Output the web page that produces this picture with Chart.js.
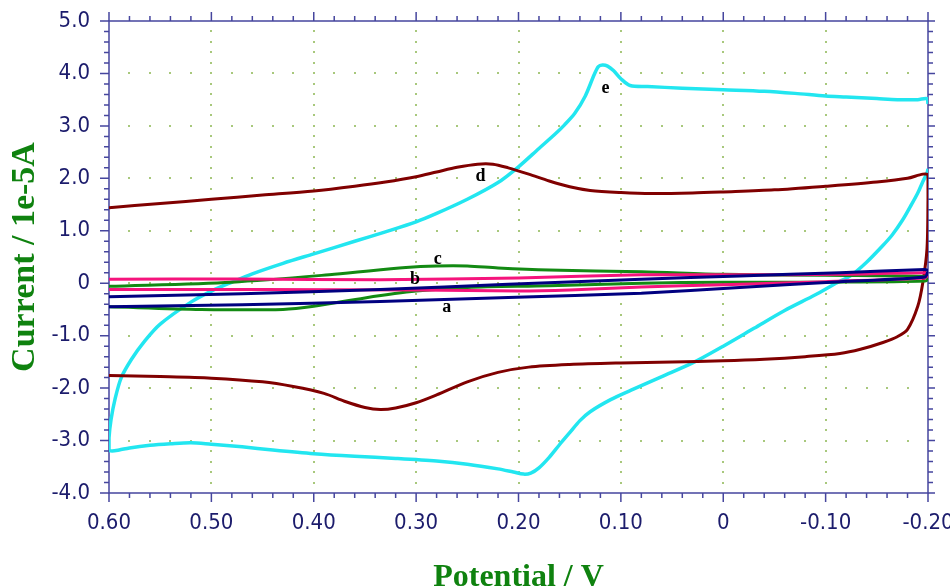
<!DOCTYPE html>
<html>
<head>
<meta charset="utf-8">
<script src="https://cdn.jsdelivr.net/npm/chart.js@4/dist/chart.umd.min.js"></script>
<style>
html,body{margin:0;padding:0;background:#ffffff;}
canvas{display:block;}
</style>
</head>
<body>
<canvas id="c" width="950" height="587"></canvas>
<script>
// ---------- DATA ----------
const xTickValues = [0.6, 0.5, 0.4, 0.3, 0.2, 0.1, 0, -0.1, -0.2];
const xTickLabels = ['0.60', '0.50', '0.40', '0.30', '0.20', '0.10', '0', '-0.10', '-0.20'];
const yTickValues = [-4, -3, -2, -1, 0, 1, 2, 3, 4, 5];
const yTickLabels = ['-4.0', '-3.0', '-2.0', '-1.0', '0', '1.0', '2.0', '3.0', '4.0', '5.0'];

// curve a (navy)
const curveA_V = [0.60, 0.47, 0.335, 0.21, 0.08, -0.016, -0.114, -0.197, -0.200, -0.197, -0.114, -0.016, 0.08, 0.21, 0.335, 0.47, 0.60];
const curveA_I = [-0.45, -0.41, -0.35, -0.27, -0.19, -0.08, 0.03, 0.12, 0.24, 0.26, 0.20, 0.14, 0.077, -0.02, -0.12, -0.20, -0.26];

// curve b (pink)
const curveB_V = [0.60, 0.45, 0.30, 0.20, 0.15, 0.08, 0.00, -0.10, -0.197, -0.200, -0.197, -0.114, -0.016, 0.08, 0.20, 0.335, 0.47, 0.60];
const curveB_I = [-0.12, -0.12, -0.13, -0.15, -0.13, -0.07, -0.03, 0.03, 0.10, 0.16, 0.20, 0.17, 0.16, 0.16, 0.10, 0.065, 0.08, 0.077];

// curve c (green)
const curveC_V = [0.60, 0.51, 0.43, 0.40, 0.35, 0.30, 0.25, 0.17, 0.08, 0.00, -0.10, -0.197, -0.200, -0.197, -0.10, 0.00, 0.08, 0.17, 0.22, 0.25, 0.28, 0.31, 0.38, 0.48, 0.60];
const curveC_I = [-0.45, -0.50, -0.50, -0.44, -0.28, -0.15, -0.08, -0.05, 0.00, 0.02, 0.02, 0.04, 0.09, 0.13, 0.15, 0.17, 0.22, 0.25, 0.29, 0.33, 0.33, 0.30, 0.17, 0.02, -0.06];

// curve d (dark red)
const curveD_V = [0.60, 0.55, 0.50, 0.45, 0.40, 0.36, 0.33, 0.30, 0.28, 0.26, 0.24, 0.225, 0.21, 0.19, 0.17, 0.15, 0.13, 0.10, 0.07, 0.03, 0.00, -0.05, -0.10, -0.15, -0.18, -0.195, -0.200,
  -0.200, -0.199, -0.195, -0.19, -0.18, -0.17, -0.156, -0.134, -0.114, -0.08, -0.04, 0.00, 0.05, 0.10, 0.15, 0.19, 0.22, 0.25, 0.28, 0.30, 0.32, 0.335, 0.35, 0.37, 0.39, 0.42, 0.45, 0.50, 0.55, 0.60];
const curveD_I = [1.44, 1.52, 1.60, 1.68, 1.76, 1.85, 1.93, 2.03, 2.12, 2.21, 2.27, 2.27, 2.20, 2.08, 1.95, 1.84, 1.77, 1.73, 1.71, 1.72, 1.74, 1.78, 1.85, 1.93, 2.00, 2.08, 2.06,
  1.60, 0.65, 0.02, -0.44, -0.88, -1.02, -1.13, -1.26, -1.34, -1.40, -1.45, -1.48, -1.50, -1.52, -1.55, -1.60, -1.70, -1.88, -2.13, -2.28, -2.38, -2.41, -2.37, -2.25, -2.10, -1.97, -1.88, -1.81, -1.78, -1.76];

// curve e (cyan)
const curveE_V = [-0.200, -0.199, -0.19, -0.17, -0.15, -0.12, -0.10, -0.07, -0.04, 0.00, 0.04, 0.074, 0.091, 0.10, 0.107, 0.113, 0.118, 0.122, 0.126, 0.135, 0.145, 0.155, 0.165, 0.18,
  0.20, 0.22, 0.25, 0.28, 0.30, 0.33, 0.36, 0.40, 0.43, 0.46, 0.48, 0.50, 0.52, 0.55, 0.565, 0.578, 0.588, 0.594, 0.598, 0.600, 0.600,
  0.597, 0.59, 0.58, 0.56, 0.54, 0.52, 0.50, 0.47, 0.44, 0.40, 0.36, 0.32, 0.28, 0.25, 0.22, 0.205, 0.195, 0.188, 0.18, 0.17, 0.16, 0.15, 0.14, 0.13, 0.11, 0.09, 0.06, 0.03, 0.00,
  -0.03, -0.06, -0.09, -0.11, -0.125, -0.14, -0.155, -0.165, -0.175, -0.183, -0.19, -0.195, -0.199, -0.200];
const curveE_I = [3.42, 3.52, 3.50, 3.50, 3.52, 3.55, 3.57, 3.62, 3.66, 3.69, 3.72, 3.75, 3.77, 3.90, 4.05, 4.14, 4.16, 4.13, 3.98, 3.56, 3.24, 3.02, 2.83, 2.57,
  2.22, 1.92, 1.60, 1.33, 1.17, 0.98, 0.80, 0.56, 0.38, 0.18, 0.02, -0.15, -0.36, -0.78, -1.10, -1.45, -1.80, -2.20, -2.60, -2.95, -3.18,
  -3.20, -3.18, -3.14, -3.09, -3.06, -3.04, -3.07, -3.12, -3.18, -3.25, -3.30, -3.34, -3.39, -3.45, -3.54, -3.60, -3.64, -3.62, -3.52, -3.32, -3.08, -2.85, -2.62, -2.45, -2.22, -2.04, -1.78, -1.52, -1.20,
  -0.86, -0.52, -0.22, 0.00, 0.15, 0.40, 0.70, 0.92, 1.20, 1.47, 1.72, 1.94, 2.10, 2.18];

// curve labels (text + anchor in data units)
const curveLabels = ['a', 'b', 'c', 'd', 'e'];
const curveLabelV = [0.27, 0.301, 0.279, 0.237, 0.115];
const curveLabelI = [-0.46, 0.077, 0.46, 2.03, 3.72];

// ---------- STYLE ----------
const AXIS_COLOR = '#46469e';
const TICK_TEXT = '#1c1c6c';
const TITLE_GREEN = '#0f820f';
const DOT_COLOR = '#a8c87c';
const tickFont = { family: "'Liberation Sans Narrow','Arial Narrow','DejaVu Sans Condensed','Liberation Sans',Arial,sans-serif", size: 22 };
const titleFontFamily = "'Liberation Serif','Times New Roman',serif";

function pts(V, I) { return V.map((v, i) => ({ x: v, y: I[i] })); }

const axesPlugin = {
  id: 'axesPlugin',
  beforeDatasetsDraw(chart) {
    const { ctx, chartArea: a, scales: { x, y } } = chart;
    ctx.save();
    ctx.fillStyle = DOT_COLOR;
    for (let yi = -3; yi <= 4; yi++) {
      const py = y.getPixelForValue(yi);
      for (let k = -9; k <= 29; k++) {
        const px = x.getPixelForValue(k * 0.02);
        ctx.fillRect(Math.round(px) - 1, Math.round(py) - 1, 2, 2);
      }
    }
    for (let xi = -1; xi <= 5; xi++) {
      const px = x.getPixelForValue(xi * 0.1);
      for (let k = -19; k <= 24; k++) {
        const py = y.getPixelForValue(k * 0.2);
        ctx.fillRect(Math.round(px) - 1, Math.round(py) - 1, 2, 2);
      }
    }
    ctx.strokeStyle = AXIS_COLOR;
    ctx.lineWidth = 1.5;
    ctx.beginPath();
    ctx.rect(a.left, a.top, a.right - a.left, a.bottom - a.top);
    ctx.stroke();
    ctx.beginPath();
    for (let k = -20; k <= 25; k++) {
      const py = y.getPixelForValue(k * 0.2);
      const major = k % 5 === 0;
      ctx.moveTo(a.left, py); ctx.lineTo(a.left - (major ? 9 : 5), py);
      ctx.moveTo(a.right, py); ctx.lineTo(a.right + (major ? 7 : 5), py);
    }
    for (let k = -10; k <= 30; k++) {
      const px = x.getPixelForValue(k * 0.02);
      const major = k % 5 === 0;
      ctx.moveTo(px, a.bottom); ctx.lineTo(px, a.bottom + (major ? 9 : 5));
      ctx.moveTo(px, a.top); ctx.lineTo(px, a.top - (major ? 9 : 5));
    }
    ctx.stroke();
    ctx.restore();
  },
  afterDatasetsDraw(chart) {
    const { ctx, scales: { x, y } } = chart;
    ctx.save();
    ctx.fillStyle = '#000000';
    ctx.font = "bold 18px " + titleFontFamily;
    ctx.textAlign = 'center';
    ctx.textBaseline = 'middle';
    curveLabels.forEach((t, i) => {
      ctx.fillText(t, x.getPixelForValue(curveLabelV[i]), y.getPixelForValue(curveLabelI[i]));
    });
    ctx.restore();
  }
};

const ds = (label, V, I, color, width, tension) => ({
  label, data: pts(V, I), borderColor: color, backgroundColor: color,
  borderWidth: width, pointRadius: 0, tension: tension, fill: false
});

new Chart(document.getElementById('c'), {
  type: 'line',
  data: {
    datasets: [
      ds('a', curveA_V, curveA_I, '#000080', 3, 0.2),
      ds('b', curveB_V, curveB_I, '#f5147c', 3, 0.2),
      ds('c', curveC_V, curveC_I, '#138a13', 3, 0.3),
      ds('d', curveD_V, curveD_I, '#800000', 3, 0.3),
      ds('e', curveE_V, curveE_I, '#22e6f0', 3.5, 0.3)
    ]
  },
  options: {
    responsive: false,
    animation: false,
    devicePixelRatio: 1,
    layout: { padding: { top: 21, right: 22, left: 0, bottom: 0 } },
    plugins: { legend: { display: false }, tooltip: { enabled: false } },
    scales: {
      x: {
        type: 'linear', position: 'bottom', reverse: true, min: -0.2, max: 0.6,
        grid: { display: false, drawTicks: false }, border: { display: false },
        afterBuildTicks: s => { s.ticks = xTickValues.map(v => ({ value: v })); },
        afterFit: s => { s.height = 94; s.paddingLeft = 0; s.paddingRight = 0; },
        ticks: {
          autoSkip: false, maxRotation: 0, padding: 17, color: TICK_TEXT, font: tickFont,
          callback: (v) => { const i = xTickValues.findIndex(t => Math.abs(t - v) < 1e-9); return i >= 0 ? xTickLabels[i] : ''; }
        },
        title: {
          display: true, text: 'Potential / V', color: TITLE_GREEN,
          font: { family: titleFontFamily, size: 32, weight: 'bold', lineHeight: 1 },
          padding: { top: 0, bottom: -7 }
        }
      },
      y: {
        type: 'linear', position: 'left', min: -4, max: 5,
        grid: { display: false, drawTicks: false }, border: { display: false },
        afterBuildTicks: s => { s.ticks = yTickValues.map(v => ({ value: v })); },
        afterFit: s => { s.width = 109; s.paddingTop = 0; s.paddingBottom = 0; },
        ticks: {
          autoSkip: false, padding: 19, color: TICK_TEXT, font: tickFont,
          callback: (v) => { const i = yTickValues.findIndex(t => Math.abs(t - v) < 1e-9); return i >= 0 ? yTickLabels[i] : ''; }
        },
        title: {
          display: true, text: 'Current / 1e-5A', color: TITLE_GREEN,
          font: { family: titleFontFamily, size: 34, weight: 'bold', lineHeight: 1 },
          padding: { top: 8, bottom: 0 }
        }
      }
    }
  },
  plugins: [axesPlugin]
});
</script>
</body>
</html>
